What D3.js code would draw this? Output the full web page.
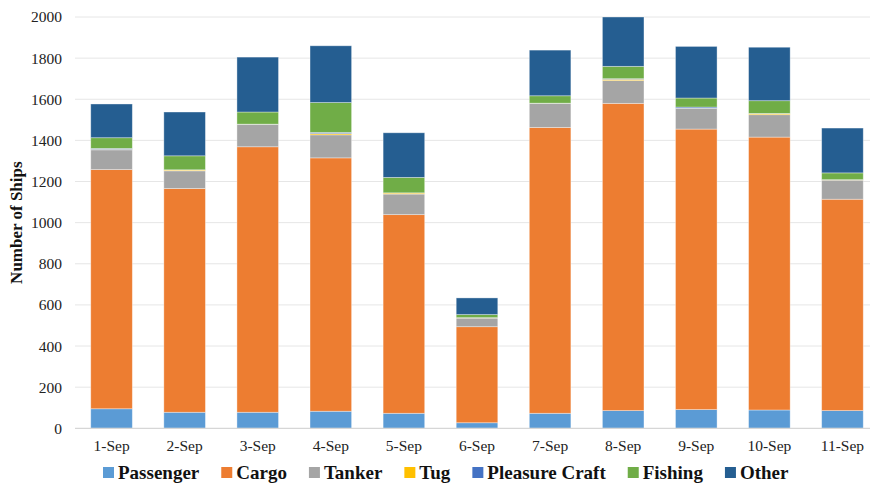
<!DOCTYPE html>
<html>
<head>
<meta charset="utf-8">
<script src="https://cdn.jsdelivr.net/npm/d3@7"></script>
<style>
  html, body { margin: 0; padding: 0; background: #fff; }
  svg { display: block; }
  svg text { font-family: "Liberation Serif", "Times New Roman", Times, serif; }
</style>
</head>
<body>
<svg id="chart" width="870" height="483"></svg>
<script>
const categories = ["1-Sep","2-Sep","3-Sep","4-Sep","5-Sep","6-Sep","7-Sep","8-Sep","9-Sep","10-Sep","11-Sep"];
const seriesNames = ["Passenger","Cargo","Tanker","Tug","Pleasure Craft","Fishing","Other"];
const passenger     = [95, 78, 78, 83, 73, 27, 73, 86, 91, 89, 86];
const cargo         = [1163, 1088, 1291, 1232, 966, 467, 1390, 1494, 1364, 1327, 1028];
const tanker        = [96, 86, 108, 112, 100, 42, 116, 111, 100, 109, 93];
const tug           = [2, 4, 1, 6, 5, 1, 1, 6, 1, 5, 1];
const pleasureCraft = [5, 1, 1, 6, 1, 1, 1, 3, 6, 1, 1];
const fishing       = [52, 68, 59, 145, 75, 15, 36, 60, 44, 62, 33];
const other         = [164, 213, 267, 276, 217, 81, 222, 240, 251, 260, 218];
const yTicks = [0, 200, 400, 600, 800, 1000, 1200, 1400, 1600, 1800, 2000];
const colors = ["#5B9BD5","#ED7D31","#A5A5A5","#FFC000","#4472C4","#70AD47","#255E91"];

const seriesValues = [passenger, cargo, tanker, tug, pleasureCraft, fishing, other];
const table = categories.map((c, i) => {
  const row = { cat: c };
  seriesNames.forEach((s, j) => row[s] = seriesValues[j][i]);
  return row;
});

const FONT = '"Liberation Serif", "Times New Roman", Times, serif';
const svg = d3.select("#chart");
const plotLeft = 75, plotRight = 879, plotTop = 17, plotBottom = 428.3;

const x = d3.scaleBand().domain(categories).range([plotLeft, plotRight]).paddingInner(0.431).paddingOuter(0.2155);
const y = d3.scaleLinear().domain([0, 2000]).range([plotBottom, plotTop]);

// gridlines
svg.append("g").selectAll("line").data(yTicks.filter(t => t > 0)).join("line")
  .attr("x1", plotLeft).attr("x2", plotRight)
  .attr("y1", d => y(d)).attr("y2", d => y(d))
  .attr("stroke", "#e6e6e6").attr("stroke-width", 1);

const stack = d3.stack().keys(seriesNames)(table);

svg.append("g").selectAll("g").data(stack).join("g")
  .attr("fill", (d, i) => colors[i])
  .selectAll("rect").data(d => d).join("rect")
  .attr("x", d => x(d.data.cat))
  .attr("width", x.bandwidth())
  .attr("y", d => y(Math.min(d[1], 2000)))
  .attr("height", d => Math.max(0, y(d[0]) - y(Math.min(d[1], 2000))))
  .attr("stroke", "#ffffff").attr("stroke-opacity", 0.45).attr("stroke-width", 0.8);

// baseline
svg.append("line").attr("x1", plotLeft).attr("x2", plotRight)
  .attr("y1", y(0)).attr("y2", y(0))
  .attr("stroke", "#d6d6d6").attr("stroke-width", 1.2);

// y axis labels
const yAxis = d3.axisLeft(y).tickValues(yTicks).tickFormat(d3.format("d")).tickSize(0).tickPadding(0);
const gy = svg.append("g").attr("transform", "translate(62,0)").call(yAxis)
  .attr("font-family", null).attr("font-size", null);
gy.select(".domain").remove();
gy.selectAll("text").style("font-family", FONT)
  .style("font-size", "15.5px").attr("fill", "#222");

// x axis labels
const xAxis = d3.axisBottom(x).tickSize(0).tickPadding(0);
const gx = svg.append("g").attr("transform", "translate(0,440)").call(xAxis)
  .attr("font-family", null).attr("font-size", null);
gx.select(".domain").remove();
gx.selectAll("text").style("font-family", FONT)
  .style("font-size", "15.5px").attr("fill", "#222").attr("dy", "0.71em");

// y title
svg.append("text")
  .attr("transform", `translate(22,${(plotTop + plotBottom) / 2}) rotate(-90)`)
  .attr("text-anchor", "middle")
  .style("font-family", FONT)
  .style("font-weight", "bold").style("font-size", "17px").attr("fill", "#111")
  .text("Number of Ships");

// legend
const lg = svg.append("g");
let lx = 103;
seriesNames.forEach((s, i) => {
  lg.append("rect").attr("x", lx).attr("y", 467).attr("width", 11).attr("height", 11).attr("fill", colors[i]);
  const t = lg.append("text").attr("x", lx + 15).attr("y", 479)
    .style("font-family", FONT)
    .style("font-weight", "bold").style("font-size", "19px").attr("fill", "#111").text(s);
  lx += 15 + t.node().getComputedTextLength() + 22;
});
</script>
</body>
</html>
